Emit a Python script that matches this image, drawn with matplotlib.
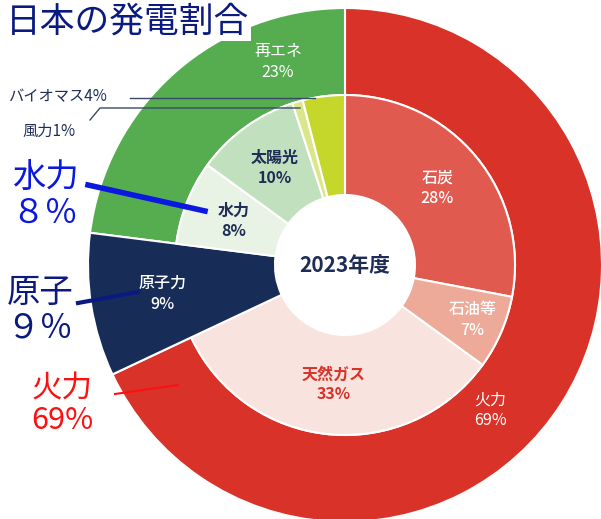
import matplotlib
matplotlib.use("Agg")
import matplotlib.pyplot as plt
import numpy as np

plt.rcParams['font.family'] = ['Noto Sans CJK JP', 'DejaVu Sans']

# inner ring
inner_labels = ["石炭", "石油等", "天然ガス", "原子力", "水力", "太陽光", "風力", "バイオマス"]
inner_pct = [28, 7, 33, 9, 8, 10, 1, 4]
inner_colors = ["#e05a50", "#eeaa98", "#f9e3de", "#172d58", "#e8f3e5", "#c1e0be", "#dbe68a", "#c4d72a"]
inner_text = ["white", "white", "#d93228", "white", "#1e2d55", "#1e2d55", None, None]

# outer ring (groups of inner)
outer_labels = ["火力", "原子力", "再エネ"]
outer_pct = [69, 9, 23]
outer_groups = [[0, 1, 2], [3], [4, 5, 6, 7]]
outer_colors = ["#d93228", "#172d58", "#56ad50"]

W, H = 601, 519
CX, CY, R = 345, 265, 257

fig = plt.figure(figsize=(W / 100, H / 100), dpi=100)
ax = fig.add_axes([0, 0, 1, 1])


def px(x, y):
    return (x - CX) / R, (CY - y) / R


outer_sizes = [sum(inner_pct[i] for i in g) for g in outer_groups]
r_in = 170 / R
r_hole = 70 / R

ow, _ = ax.pie(outer_sizes, colors=outer_colors, startangle=90, counterclock=False,
               radius=1, wedgeprops=dict(width=1 - r_in, edgecolor="white", linewidth=1.5))
iw, _ = ax.pie(inner_pct, colors=inner_colors, startangle=90, counterclock=False,
               radius=r_in, wedgeprops=dict(width=r_in - r_hole, edgecolor="white", linewidth=1.5))
# nuclear spans both rings
ow[1].set_visible(False)
iw[3].set_radius(1)
iw[3].set_width(1 - r_hole)

ax.set_xlim(-CX / R, (W - CX) / R)
ax.set_ylim(-(H - CY) / R, CY / R)
ax.set_aspect('equal')
ax.axis('off')

# inner labels
total = sum(inner_pct)
start = 90
for lab, p, c in zip(inner_labels, inner_pct, inner_text):
    mid = start - p / total * 360 / 2
    start -= p / total * 360
    if c is None:
        continue
    rr = 0.72 if lab == "原子力" else (r_in + r_hole) / 2
    if lab == "石油等":
        rr = 0.54
    x, y = rr * np.cos(np.radians(mid)), rr * np.sin(np.radians(mid))
    ax.text(x, y, f"{lab}\n{p}%", ha="center", va="center", color=c, fontsize=11.5,
            fontweight="bold" if c != "white" else "medium", linespacing=1.3)

ax.text(*px(490, 410), f"{outer_labels[0]}\n{outer_pct[0]}%", ha="center", va="center",
        color="white", fontsize=11.5, linespacing=1.3)
ax.text(*px(278, 62), f"{outer_labels[2]}\n{outer_pct[2]}%", ha="center", va="center",
        color="white", fontsize=11.5, linespacing=1.3)
ax.text(0, 0, "2023年度", ha="center", va="center", color="#1e2d55", fontsize=15, fontweight="bold")

# small callouts
ax.text(*px(8, 97), f"{inner_labels[7]}{inner_pct[7]}%", ha="left", va="center", color="#1e2d55", fontsize=11)
ax.plot(*zip(px(130, 98), px(315, 98)), color="#3a4a66", lw=1)
ax.text(*px(22, 131), f"{inner_labels[6]}{inner_pct[6]}%", ha="left", va="center", color="#1e2d55", fontsize=11)
ax.plot(*zip(px(90, 120), px(100, 108), px(300, 108)), color="#3a4a66", lw=1)

# big annotations on the left
ax.text(*px(45, 196), "水力\n８％", ha="center", va="center", color="#0a18e0", fontsize=24,
        style="italic", linespacing=1.0)
ax.plot(*zip(px(88, 185), px(205, 211)), color="#0a18e0", lw=4)
ax.text(*px(40, 310), "原子\n９％", ha="center", va="center", color="#0a1a80", fontsize=24, linespacing=1.0)
ax.plot(*zip(px(78, 303), px(138, 292)), color="#0a1a80", lw=3)
ax.text(*px(62, 405), "火力\n69%", ha="center", va="center", color="#ff1010", fontsize=22,
        style="italic", linespacing=1.0)
ax.plot(*zip(px(115, 394), px(178, 385)), color="#ff1010", lw=1.5)

ax.text(*px(6, 22), "日本の発電割合", ha="left", va="center", color="#0a1a80", fontsize=25,
        bbox=dict(facecolor="white", edgecolor="none", pad=1))

fig.savefig("out.png", dpi=100)
